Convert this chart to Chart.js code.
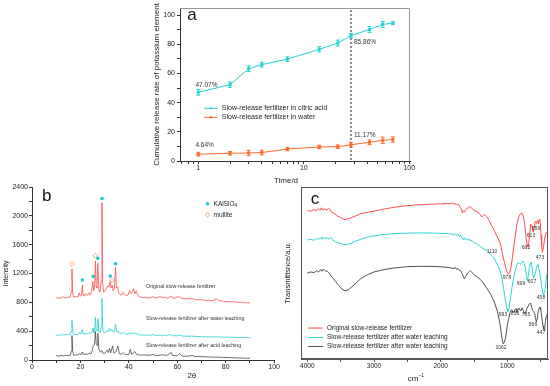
<!DOCTYPE html>
<html>
<head>
<meta charset="utf-8">
<script src="https://cdn.jsdelivr.net/npm/chart.js@4/dist/chart.umd.min.js"></script>
<style>
  html, body { margin: 0; padding: 0; background: #fff; }
  #wrap { position: relative; width: 550px; height: 386px; overflow: hidden; background: #fff; }
  canvas { position: absolute; }
</style>
</head>
<body>
<div id="wrap">
  <canvas id="chartA" width="290" height="186" style="left:130px;top:0px;"></canvas>
  <canvas id="chartB" width="280" height="206" style="left:0px;top:180px;"></canvas>
  <canvas id="chartC" width="270" height="206" style="left:280px;top:180px;"></canvas>
</div>
<script>
'use strict';

// ===== (a) liberacion acumulada de K =====
var days = [1, 2, 3, 4, 7, 14, 21, 28, 42, 56, 70];
var releaseCitric = [47.07, 52.3, 63.2, 66.0, 69.8, 76.5, 80.8, 85.86, 90.1, 93.6, 94.4];
var errCitric = [2.0, 1.8, 2.0, 1.6, 1.5, 1.8, 2.0, 1.5, 2.0, 2.0, 1.0];
var releaseWater = [4.64, 5.3, 5.5, 5.8, 8.2, 9.6, 9.8, 11.17, 12.8, 14.2, 14.7];
var errWater = [1.3, 1.2, 1.8, 1.6, 1.2, 1.2, 1.2, 1.6, 1.6, 2.2, 1.8];
var seriesNamesA = ['Slow-release fertilizer in citric acid', 'Slow-release fertilizer in water'];
var xTicksA = [1, 10, 100];
var yTicksA = [0, 20, 40, 60, 80, 100];
var markDay = 28;

// ===== (b) XRD =====
var xrdOriginal = [[10,860],[11,858],[12,866],[12.5,862],[13,880],[13.5,860],[14,865],[15,870],[15.8,875],[16.2,950],[16.5,1265],[16.8,940],[17.2,870],[18,880],[19,875],[19.5,930],[20,885],[20.5,900],[20.8,1040],[21.1,900],[21.6,890],[22,920],[22.5,895],[23,905],[23.5,930],[24,905],[24.6,950],[25.1,1090],[25.5,960],[25.9,1050],[26.2,1375],[26.5,1020],[26.8,1000],[27.2,1345],[27.6,980],[28.1,940],[28.6,1100],[28.9,2180],[29.2,1050],[29.6,940],[30.2,960],[30.8,1000],[31.3,1030],[31.8,1010],[32.3,1090],[32.7,1000],[33.1,1040],[33.5,960],[34,990],[34.5,1285],[34.9,1000],[35.4,1010],[35.8,930],[36.3,910],[37,900],[37.7,940],[38.2,910],[39,895],[39.6,900],[40.3,960],[40.8,920],[41.4,940],[42,990],[42.5,920],[43.1,960],[43.6,900],[44.3,880],[45,870],[46,865],[47,872],[48,860],[49,866],[50,880],[50.7,860],[52,865],[53,885],[53.6,862],[54.5,872],[55.5,858],[56.5,862],[57.4,890],[58,862],[59,858],[60.2,880],[61,870],[62,852],[63,850],[64,846],[65,852],[66.2,855],[67,840],[68,836],[69,838],[70,835],[71,830],[72,826],[73,830],[74,822],[75,830],[76.2,850],[77,825],[78,818],[79,815],[80,812],[81,812],[82,806],[83,808],[84,802],[85,800],[86,802],[87,797],[88,795],[89,793],[90,794]];
var xrdWater = [[10,345],[11,342],[12,350],[13,346],[14,352],[15,350],[15.8,355],[16.2,400],[16.5,555],[16.8,390],[17.3,350],[18,355],[19,352],[19.6,380],[20.2,358],[20.8,425],[21.2,360],[22,365],[23,362],[23.6,380],[24.3,370],[24.8,395],[25.2,440],[25.6,380],[26,430],[26.2,590],[26.5,420],[26.9,400],[27.2,575],[27.6,390],[28.2,380],[28.6,470],[28.9,855],[29.2,420],[29.7,380],[30.4,385],[31,400],[31.5,395],[32,440],[32.5,400],[33.1,420],[33.6,385],[34.1,400],[34.5,495],[34.9,390],[35.5,400],[36,370],[37,365],[37.7,385],[38.3,365],[39,358],[40,360],[40.5,385],[41,362],[41.8,375],[42.4,362],[43,370],[44,352],[45,348],[47,345],[49,342],[50,352],[51,340],[53,346],[54,338],[55,342],[57.5,352],[58,338],[60,335],[61,344],[62,333],[64,330],[66,332],[68,326],[70,324],[72,322],[74,320],[76,322],[78,318],[80,316],[82,315],[84,313],[86,312],[88,311],[90,310]];
var xrdAcid = [[10,60],[11,55],[12,62],[13,58],[14,64],[15,62],[15.8,68],[16.2,120],[16.5,340],[16.8,120],[17.3,65],[18,70],[19,72],[19.6,90],[20.2,75],[20.8,110],[21.2,78],[22,82],[23,80],[23.6,95],[24.3,85],[24.8,120],[25.3,200],[25.8,210],[26.2,395],[26.5,230],[26.9,200],[27.2,370],[27.6,150],[28.2,110],[28.9,130],[29.3,95],[30,90],[30.7,120],[31.1,140],[31.6,105],[32,160],[32.5,100],[33.3,195],[33.8,95],[34.6,110],[35.5,195],[36,90],[37,80],[37.7,100],[38.3,80],[39,75],[40,78],[40.6,150],[41.1,80],[41.8,95],[42.5,118],[43.1,80],[44,72],[45,68],[47,70],[48.5,65],[50,75],[51,62],[53,68],[54.5,72],[55.5,60],[57.5,102],[58,62],[60,58],[61,92],[62,55],[64,52],[66.5,62],[67,48],[69,50],[71,45],[73,42],[75,40],[77,38],[79,35],[81,34],[83,30],[85,28],[87,26],[89,24],[90,23]];
var kalsiPeaks = [[20.8,1110],[25.3,1160],[27.2,1410],[28.9,2240],[32.3,1165],[34.5,1335]];
var mullitePeaks = [[16.5,1330],[26.2,1445],[33.1,1110]];
var xrdNames = ['Original slow-release fertilizer', 'Slow-release fertilizer after water leaching', 'Slow-release fertilizer after acid leaching'];
var xTicksB = [0, 20, 40, 60, 80, 100];
var yTicksB = [0, 400, 800, 1200, 1600, 2000, 2400];

// ===== (c) FTIR =====
var irOriginal = [[4000,86.3],[3950,86.0],[3900,86.8],[3860,86.2],[3835,87.5],[3810,86.4],[3790,87.9],[3770,86.6],[3740,87.2],[3710,86.5],[3680,87.6],[3660,86.9],[3640,85.6],[3600,84.6],[3550,83.2],[3500,82.2],[3435,81.0],[3380,81.6],[3300,82.8],[3200,84.4],[3100,85.3],[3000,86.0],[2850,87.2],[2700,88.2],[2550,89.0],[2400,89.5],[2200,89.9],[2000,90.2],[1900,90.4],[1850,90.3],[1810,90.8],[1790,89.8],[1770,90.4],[1750,89.4],[1730,89.9],[1710,88.3],[1690,87.2],[1675,85.0],[1660,86.2],[1645,85.4],[1630,86.8],[1610,87.4],[1590,87.9],[1570,88.7],[1550,88.2],[1530,87.6],[1500,86.5],[1470,86.0],[1440,85.4],[1410,84.0],[1385,82.6],[1360,83.6],[1340,84.0],[1310,82.8],[1280,81.0],[1240,77.8],[1200,75.0],[1160,71.8],[1120,68.5],[1100,66.5],[1070,60.5],[1040,55.5],[1010,51.2],[985,49.2],[965,49.8],[945,53.5],[925,58.5],[905,65.0],[880,71.5],[860,77.5],[830,82.5],[800,84.5],[780,84.8],[760,83.0],[740,78.5],[720,71.0],[705,66.5],[692,65.2],[680,67.0],[665,73.0],[650,78.4],[635,77.8],[620,75.0],[613,73.8],[600,76.0],[590,79.5],[575,80.0],[565,79.0],[556,79.8],[545,80.5],[535,78.5],[525,80.8],[515,81.4],[505,79.0],[495,72.0],[485,66.0],[473,62.0],[460,64.5],[445,68.5],[430,72.0],[415,73.5],[400,73.0],[390,72.5]];
var irWater = [[4000,69.2],[3950,69.6],[3900,69.0],[3860,70.2],[3830,69.4],[3800,70.8],[3780,69.6],[3760,70.9],[3730,69.8],[3700,70.6],[3675,69.5],[3650,70.8],[3620,69.2],[3580,68.2],[3520,67.4],[3435,66.3],[3360,67.0],[3280,68.4],[3200,69.6],[3100,70.8],[3000,71.6],[2850,72.4],[2700,72.9],[2500,73.2],[2300,73.3],[2100,73.2],[1950,73.0],[1850,72.7],[1800,72.2],[1780,73.0],[1760,71.8],[1740,72.6],[1720,71.2],[1700,71.9],[1680,70.4],[1660,69.4],[1645,70.6],[1630,69.2],[1610,70.0],[1590,69.0],[1570,69.8],[1550,68.6],[1530,68.9],[1500,67.6],[1450,66.8],[1400,65.2],[1350,63.8],[1300,62.7],[1250,60.8],[1200,58.8],[1150,55.0],[1100,50.0],[1075,45.5],[1050,39.5],[1025,33.0],[1005,29.0],[993,27.5],[975,29.5],[955,35.0],[930,41.5],[905,47.0],[880,51.5],[860,54.5],[840,56.0],[820,55.5],[800,55.0],[780,56.2],[760,57.0],[745,55.5],[730,53.0],[715,49.0],[699,45.2],[685,48.5],[670,53.0],[655,55.8],[640,56.4],[625,52.0],[607,46.8],[595,48.0],[580,50.0],[565,52.5],[550,54.5],[540,55.0],[525,52.5],[510,49.0],[495,45.0],[480,41.0],[465,38.0],[458,37.3],[445,38.5],[430,41.2],[418,45.5],[405,49.5],[392,51.5]];
var irAcid = [[4000,50.0],[3950,50.6],[3900,50.2],[3860,51.4],[3830,50.6],[3800,52.0],[3780,51.0],[3760,52.2],[3730,51.2],[3700,51.0],[3670,49.8],[3650,48.6],[3620,47.2],[3580,45.2],[3530,42.8],[3480,40.6],[3435,39.6],[3380,40.4],[3300,43.0],[3200,46.7],[3100,49.0],[3000,50.6],[2850,52.0],[2700,52.9],[2500,53.7],[2300,53.9],[2100,53.8],[1950,53.5],[1850,53.0],[1800,52.6],[1780,53.2],[1760,52.0],[1740,52.6],[1720,51.6],[1700,51.4],[1680,49.8],[1660,48.0],[1645,46.5],[1630,47.6],[1615,48.6],[1600,49.8],[1585,50.2],[1570,51.0],[1555,51.4],[1540,50.8],[1520,49.8],[1500,49.0],[1450,47.6],[1400,46.1],[1350,43.6],[1300,40.6],[1250,37.6],[1200,33.6],[1150,27.8],[1120,22.5],[1100,17.6],[1080,12.0],[1062,8.8],[1045,9.8],[1030,11.8],[1015,15.0],[1000,19.6],[980,23.5],[960,27.0],[945,28.4],[930,28.6],[915,27.2],[900,27.4],[885,28.8],[870,29.2],[856,27.0],[840,28.6],[825,29.6],[810,28.4],[795,28.0],[780,29.8],[765,28.6],[750,27.2],[735,26.1],[720,27.8],[705,29.4],[690,30.6],[675,31.8],[660,32.4],[648,32.2],[635,30.0],[620,28.2],[605,27.6],[590,26.5],[578,24.0],[566,21.6],[555,23.5],[545,26.0],[532,28.4],[520,29.8],[510,30.0],[500,28.8],[490,26.4],[478,22.6],[465,19.2],[455,17.2],[447,16.7],[438,18.5],[428,21.8],[418,24.6],[408,25.8],[395,25.4]];
var irNames = ['Original slow-release fertilizer', 'Slow-release fertilizer after water leaching', 'Slow-release fertilizer after water leaching'];
var irPeakText = ['1110', '978', '692', '613', '556', '473', '699', '607', '458', '993', '856', '735', '566', '447', '1062'];
var xTicksC = [4000, 3000, 2000, 1000];

// posiciones de las anotaciones (en unidades de datos)
var irPeakPos = [[1230,62.2],[1005,47.5],[720,64.7],[645,72],[570,75.9],[510,58.8],[795,43.7],[630,44.7],[495,35.5],[1065,25.9],[885,26.1],[720,25.9],[615,20.2],[495,15.3],[1095,6.5]];

var FONT = "'Liberation Sans', Arial, Helvetica, sans-serif";
var CYAN_A = '#22d2d2', ORANGE_A = '#ff6a2a';
var RED = '#ff4d4d', CYAN = '#22d0d0', DARK = '#4a4a4a';
var AXIS = '#333';

Chart.defaults.font.family = FONT;
Chart.defaults.color = '#222';
Chart.defaults.animation = false;

function pairs(arr) {
  return arr.map(function (p) { return { x: p[0], y: p[1] }; });
}

function tickList(major, minor) {
  return major.concat(minor).sort(function (a, b) { return a - b; })
    .map(function (v) { return { value: v }; });
}

function between(major) {
  var out = [];
  for (var i = 0; i < major.length - 1; i++) out.push((major[i] + major[i + 1]) / 2);
  return out;
}

// texto en coordenadas de datos (dx, dy en pixeles)
function putText(chart, str, xv, yv, o) {
  o = o || {};
  var ctx = chart.ctx;
  var x = chart.scales.x.getPixelForValue(xv) + (o.dx || 0);
  var y = (o.yPix !== undefined ? o.yPix : chart.scales.y.getPixelForValue(yv)) + (o.dy || 0);
  ctx.save();
  ctx.font = (o.weight ? o.weight + ' ' : '') + (o.size || 7) + 'px ' + FONT;
  ctx.fillStyle = o.color || '#222';
  ctx.textAlign = o.align || 'left';
  ctx.textBaseline = 'middle';
  ctx.fillText(str, x, y);
  var w = ctx.measureText(str).width;
  ctx.restore();
  return { x: x, y: y, w: w };
}

function axisBase(tickLen, color) {
  return {
    grid: { display: true, drawOnChartArea: false, drawTicks: true, tickLength: tickLen, color: color, lineWidth: 1 },
    border: { display: true, color: color, width: 1 }
  };
}

function merge(a, b) {
  for (var k in b) if (b.hasOwnProperty(k)) a[k] = b[k];
  return a;
}

// ================= (a) =================
var minorXA = [0.7, 0.8, 0.9, 2, 3, 4, 5, 6, 7, 8, 9, 20, 30, 40, 50, 60, 70, 80, 90];

new Chart(document.getElementById('chartA'), {
  type: 'scatter',
  data: {
    datasets: [
      {
        data: days.map(function (d, i) { return { x: d, y: releaseCitric[i] }; }),
        showLine: true, borderColor: CYAN_A, backgroundColor: CYAN_A, borderWidth: 1,
        pointStyle: 'rect', pointRadius: 1.5, errors: errCitric
      },
      {
        data: days.map(function (d, i) { return { x: d, y: releaseWater[i] }; }),
        showLine: true, borderColor: ORANGE_A, backgroundColor: ORANGE_A, borderWidth: 1,
        pointStyle: 'rect', pointRadius: 1.5, errors: errWater
      }
    ]
  },
  options: {
    responsive: false, devicePixelRatio: 1, events: [],
    layout: { padding: { left: 17, right: 10, top: 8, bottom: 0 } },
    plugins: { legend: { display: false }, tooltip: { enabled: false } },
    scales: {
      x: merge(axisBase(3, AXIS), {
        type: 'logarithmic', min: 0.671, max: 101.5,
        afterBuildTicks: function (s) { s.ticks = tickList(xTicksA, minorXA); },
        afterFit: function (s) { s.height = 25; },
        ticks: {
          autoSkip: false, maxRotation: 0, padding: 0, font: { size: 7 }, color: '#222',
          callback: function (v) { return xTicksA.indexOf(v) >= 0 ? String(v) : ''; }
        }
      }),
      y: merge(axisBase(3, AXIS), {
        min: 0, max: 104.8,
        afterBuildTicks: function (s) { s.ticks = tickList(yTicksA, between(yTicksA)); },
        afterFit: function (s) { s.width = 33; },
        title: { display: true, text: 'Cumulative release rate of potassium element', font: { size: 8 }, color: '#222', padding: { top: 5, bottom: 0 } },
        ticks: {
          autoSkip: false, padding: 2, font: { size: 7 }, color: '#222',
          callback: function (v) { return yTicksA.indexOf(v) >= 0 ? String(v) : ''; }
        }
      })
    }
  },
  plugins: [{
    id: 'extrasA',
    beforeDatasetsDraw: function (chart) {
      var ctx = chart.ctx, a = chart.chartArea;
      var xm = chart.scales.x.getPixelForValue(markDay);
      ctx.save();
      ctx.strokeStyle = '#666';
      ctx.lineWidth = 1.5;
      ctx.setLineDash([2, 2]);
      ctx.beginPath();
      ctx.moveTo(xm, a.top + 2);
      ctx.lineTo(xm, a.bottom);
      ctx.stroke();
      ctx.restore();
    },
    afterDatasetsDraw: function (chart) {
      var ctx = chart.ctx, a = chart.chartArea;
      var xs = chart.scales.x, ys = chart.scales.y;
      // marco superior y derecho
      ctx.save();
      ctx.strokeStyle = '#9a9a9a';
      ctx.lineWidth = 1;
      ctx.beginPath();
      ctx.moveTo(a.left, a.top + 0.5);
      ctx.lineTo(a.right - 0.5, a.top + 0.5);
      ctx.lineTo(a.right - 0.5, a.bottom);
      ctx.stroke();
      ctx.restore();
      // barras de error
      chart.data.datasets.forEach(function (ds) {
        ctx.save();
        ctx.strokeStyle = ds.borderColor;
        ctx.lineWidth = 1;
        ds.data.forEach(function (p, j) {
          var e = ds.errors[j];
          var px = xs.getPixelForValue(p.x);
          var y1 = ys.getPixelForValue(p.y - e), y2 = ys.getPixelForValue(p.y + e);
          ctx.beginPath();
          ctx.moveTo(px, y1); ctx.lineTo(px, y2);
          ctx.moveTo(px - 2, y1); ctx.lineTo(px + 2, y1);
          ctx.moveTo(px - 2, y2); ctx.lineTo(px + 2, y2);
          ctx.stroke();
        });
        ctx.restore();
      });
      // etiquetas de porcentaje
      putText(chart, releaseCitric[0].toFixed(2) + '%', 0.94, 52, { size: 6.5, color: '#333' });
      putText(chart, releaseCitric[7].toFixed(2) + '%', markDay, 81.7, { size: 6.5, color: '#333', dx: 3 });
      putText(chart, releaseWater[7].toFixed(2) + '%', markDay, 17.8, { size: 6.5, color: '#333', dx: 3 });
      putText(chart, releaseWater[0].toFixed(2) + '%', 0.94, 10.5, { size: 6.5, color: '#333' });
      // leyenda
      var cols = [CYAN_A, ORANGE_A];
      var ly = [36.1, 29.9];
      for (var i = 0; i < 2; i++) {
        var x1 = xs.getPixelForValue(1.139), x2 = xs.getPixelForValue(1.51);
        var yy = ys.getPixelForValue(ly[i]);
        ctx.save();
        ctx.strokeStyle = cols[i];
        ctx.fillStyle = cols[i];
        ctx.lineWidth = 1;
        ctx.beginPath(); ctx.moveTo(x1, yy); ctx.lineTo(x2, yy); ctx.stroke();
        ctx.fillRect((x1 + x2) / 2 - 1, yy - 1, 2, 2);
        ctx.restore();
        putText(chart, seriesNamesA[i], 1.673, ly[i], { size: 7, color: '#222' });
      }
      // letra del panel y titulo del eje x
      putText(chart, 'a', 0.872, 100, { size: 17, align: 'center', color: '#111' });
      putText(chart, 'Time/d', 6.78, 0, { size: 8, align: 'center', yPix: 181 });
    }
  }]
});

// ================= (b) =================
new Chart(document.getElementById('chartB'), {
  type: 'scatter',
  data: {
    datasets: [
      { data: pairs(xrdOriginal), showLine: true, borderColor: RED, borderWidth: 0.8, pointRadius: 0 },
      { data: pairs(xrdWater), showLine: true, borderColor: CYAN, borderWidth: 0.8, pointRadius: 0 },
      { data: pairs(xrdAcid), showLine: true, borderColor: DARK, borderWidth: 0.8, pointRadius: 0 },
      { data: pairs(kalsiPeaks), showLine: false, pointStyle: 'circle', pointRadius: 1.8, backgroundColor: '#1ccaca', borderColor: '#1ccaca', borderWidth: 0 },
      { data: pairs(mullitePeaks), showLine: false, pointStyle: 'rectRot', pointRadius: 2.4, backgroundColor: '#fff', borderColor: '#f5a060', borderWidth: 0.9 }
    ]
  },
  options: {
    responsive: false, devicePixelRatio: 1, events: [],
    layout: { padding: { left: 0, right: 4, top: 7, bottom: 0 } },
    plugins: { legend: { display: false }, tooltip: { enabled: false } },
    scales: {
      x: merge(axisBase(3, AXIS), {
        type: 'linear', min: 0, max: 100,
        afterBuildTicks: function (s) { s.ticks = tickList(xTicksB, between(xTicksB)); },
        afterFit: function (s) { s.height = 26; },
        ticks: {
          autoSkip: false, maxRotation: 0, padding: 0, font: { size: 7 }, color: '#222',
          callback: function (v) { return xTicksB.indexOf(v) >= 0 ? String(v) : ''; }
        }
      }),
      y: merge(axisBase(3, AXIS), {
        min: 0, max: 2400,
        afterBuildTicks: function (s) { s.ticks = tickList(yTicksB, between(yTicksB)); },
        afterFit: function (s) { s.width = 32; },
        title: { display: true, text: 'Intensity', font: { size: 7 }, color: '#222', padding: { top: 2, bottom: 0 } },
        ticks: {
          autoSkip: false, padding: 1, font: { size: 7 }, color: '#222',
          callback: function (v) { return yTicksB.indexOf(v) >= 0 ? String(v) : ''; }
        }
      })
    }
  },
  plugins: [{
    id: 'extrasB',
    afterDatasetsDraw: function (chart) {
      var ctx = chart.ctx;
      var xs = chart.scales.x, ys = chart.scales.y;
      // nombres de las curvas
      putText(chart, xrdNames[0], 47.1, 1013, { size: 5.3, color: '#333' });
      putText(chart, xrdNames[1], 47.1, 569, { size: 5.3, color: '#333' });
      putText(chart, xrdNames[2], 47.1, 194, { size: 5.3, color: '#333' });
      // leyenda de fases
      var mx = xs.getPixelForValue(72.5);
      var y1 = ys.getPixelForValue(2168), y2 = ys.getPixelForValue(2015);
      ctx.save();
      ctx.fillStyle = '#1ccaca';
      ctx.beginPath(); ctx.arc(mx, y1, 1.8, 0, Math.PI * 2); ctx.fill();
      ctx.strokeStyle = '#f5a060'; ctx.lineWidth = 0.9;
      ctx.beginPath();
      ctx.moveTo(mx, y2 - 2.6); ctx.lineTo(mx + 1.9, y2); ctx.lineTo(mx, y2 + 2.6); ctx.lineTo(mx - 1.9, y2); ctx.closePath();
      ctx.stroke();
      ctx.restore();
      var t = putText(chart, 'KAlSiO', 75, 2168, { size: 6.5, color: '#222' });
      putText(chart, '4', 75, 2168, { size: 4.5, color: '#222', dx: t.w, dy: 2 });
      putText(chart, 'mullite', 75, 2015, { size: 6.5, color: '#222' });
      // letra del panel y titulo del eje x
      putText(chart, 'b', 6.1, 2265, { size: 17, align: 'center', color: '#111' });
      putText(chart, '2\u03b8', 66, 0, { size: 8, align: 'center', yPix: 196 });
    }
  }]
});

// ================= (c) =================
new Chart(document.getElementById('chartC'), {
  type: 'scatter',
  data: {
    datasets: [
      { data: pairs(irOriginal), showLine: true, borderColor: RED, borderWidth: 1, pointRadius: 0 },
      { data: pairs(irWater), showLine: true, borderColor: '#2ed3d3', borderWidth: 1, pointRadius: 0 },
      { data: pairs(irAcid), showLine: true, borderColor: '#505050', borderWidth: 1, pointRadius: 0 }
    ]
  },
  options: {
    responsive: false, devicePixelRatio: 1, events: [],
    layout: { padding: { left: 0, right: 2, top: 7, bottom: 0 } },
    plugins: { legend: { display: false }, tooltip: { enabled: false } },
    scales: {
      x: merge(axisBase(3, '#555'), {
        type: 'linear', min: 390, max: 4095, reverse: true,
        afterBuildTicks: function (s) { s.ticks = tickList(xTicksC, between(xTicksC).concat([500])); },
        afterFit: function (s) { s.height = 27; },
        ticks: {
          autoSkip: false, maxRotation: 0, padding: 0, font: { size: 6.5 }, color: '#222',
          callback: function (v) { return xTicksC.indexOf(v) >= 0 ? String(v) : ''; }
        }
      }),
      y: {
        min: 0, max: 100,
        afterFit: function (s) { s.width = 21; },
        grid: { display: false },
        border: { display: true, color: '#555', width: 1 },
        ticks: { display: false },
        title: { display: true, text: 'Transmittsnce/a.u.', font: { size: 7.5 }, color: '#222', padding: { top: 3, bottom: 0 } }
      }
    }
  },
  plugins: [{
    id: 'extrasC',
    afterDatasetsDraw: function (chart) {
      var ctx = chart.ctx, a = chart.chartArea;
      var xs = chart.scales.x, ys = chart.scales.y;
      // marco
      ctx.save();
      ctx.strokeStyle = '#555';
      ctx.lineWidth = 1;
      ctx.strokeRect(a.left + 0.5, a.top + 0.5, a.right - a.left - 1, a.bottom - a.top - 1);
      ctx.restore();
      // numeros de onda
      irPeakText.forEach(function (s, i) {
        putText(chart, s, irPeakPos[i][0], irPeakPos[i][1], { size: 5, align: 'center', color: '#333' });
      });
      // leyenda
      var cols = [RED, '#2ed3d3', '#505050'];
      var ly = [18, 12.5, 7.3];
      for (var i = 0; i < 3; i++) {
        var yy = ys.getPixelForValue(ly[i]);
        ctx.save();
        ctx.strokeStyle = cols[i]; ctx.lineWidth = 1;
        ctx.beginPath();
        ctx.moveTo(xs.getPixelForValue(3989), yy);
        ctx.lineTo(xs.getPixelForValue(3764), yy);
        ctx.stroke();
        ctx.restore();
        putText(chart, irNames[i], 3705, ly[i], { size: 6.5, color: '#222' });
      }
      // letra del panel y titulo del eje x
      putText(chart, 'c', 3885, 93.1, { size: 17, align: 'center', color: '#111' });
      var t = putText(chart, 'cm', 2414, 0, { size: 8, align: 'center', yPix: 199 });
      putText(chart, '\u22121', 2414, 0, { size: 5, yPix: 196, dx: t.w / 2 });
    }
  }]
});
</script>
</body>
</html>
